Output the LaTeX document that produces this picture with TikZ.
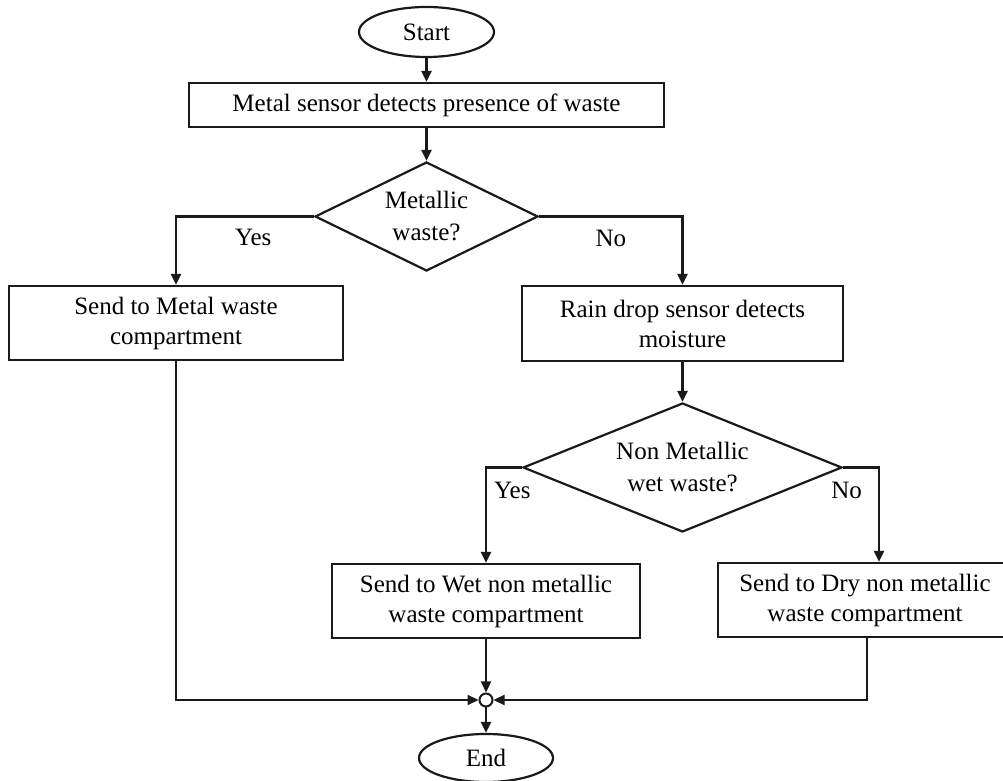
\documentclass[tikz,border=0pt]{standalone}
\usepackage{fontspec}
\setmainfont{Liberation Serif}
\usepackage{xcolor}
\definecolor{cLine}{HTML}{1A1A1A}
\usepackage{tikz}
\usetikzlibrary{positioning,arrows.meta,shapes.geometric}
\tikzset{
  node-box/.style={draw=cLine,line width=2.2pt,rectangle,align=center,
    inner sep=0pt,font=\fontsize{25}{30}\selectfont},
  node-term/.style={draw=cLine,line width=2.2pt,ellipse,inner sep=0pt,
    font=\fontsize{25}{30}\selectfont},
  node-dec/.style={draw=cLine,line width=2.2pt,diamond,aspect=2,inner sep=0pt,
    align=center,font=\fontsize{25}{32}\selectfont},
  node-junc/.style={draw=cLine,line width=2pt,circle,fill=white,
    minimum size=13pt,inner sep=0pt},
  node-label/.style={inner sep=0pt,font=\fontsize{25}{30}\selectfont},
  arrow/.style={-{Triangle[length=11pt,width=10pt]},line width=2.2pt,draw=cLine},
}

\begin{document}
\begin{tikzpicture}[x=1pt,y=1pt]
  \useasboundingbox (0,0) rectangle (1003,781);
  % main column
  \node[node-term,minimum width=135pt,minimum height=50pt] (start) at (426.5,749) {Start};
  \node[node-box,minimum width=475pt,minimum height=44pt] (detect) at (426.5,676)
    {Metal sensor detects presence of waste};
  \node[node-dec,minimum width=223pt,minimum height=109pt] (metallic) at (426.5,564.5)
    {Metallic\\waste?};
  \node[node-box,minimum width=334pt,minimum height=74pt] (metalbin) at (176,458)
    {Send to Metal waste\\compartment};
  \node[node-box,minimum width=321pt,minimum height=75pt] (rain) at (682.5,457.5)
    {Rain drop sensor detects\\moisture};
  \node[node-dec,minimum width=319pt,minimum height=129pt] (wet) at (682.5,313.5)
    {Non Metallic\\wet waste?};
  \node[node-box,minimum width=308pt,minimum height=74pt] (wetbin) at (486,180)
    {Send to Wet non metallic\\waste compartment};
  \node[node-box,minimum width=294pt,minimum height=74pt] (drybin) at (865,181)
    {Send to Dry non metallic\\waste compartment};
  \node[node-junc] (join) at (486,81) {};
  \node[node-term,minimum width=134pt,minimum height=48pt] (end) at (486,23) {End};

  \draw[arrow] (start) -- (detect);
  \draw[arrow] (detect) -- (metallic);
  \draw[arrow] (metallic.west) -| node[node-label,pos=0.22,below=12pt]{Yes} (metalbin.north);
  \draw[arrow] (metallic.east) -| node[node-label,pos=0.25,below=13pt]{No} (rain.north);
  \draw[arrow] (rain) -- (wet);
  \draw[arrow] (wet.west) -| node[node-label,pos=0.5,below right=14pt and 7pt]{Yes} (wetbin.north);
  \draw[arrow] (wet.east) -| node[node-label,pos=0.5,below left=14pt and 16pt]{No}
    ([xshift=14pt]drybin.north);
  % merge into the end
  \draw[arrow] (wetbin) -- (join);
  \draw[arrow] (metalbin.south) |- (join.west);
  \draw[arrow] ([xshift=2pt]drybin.south) |- (join.east);
  \draw[arrow] (join) -- (end);
\end{tikzpicture}
\end{document}
